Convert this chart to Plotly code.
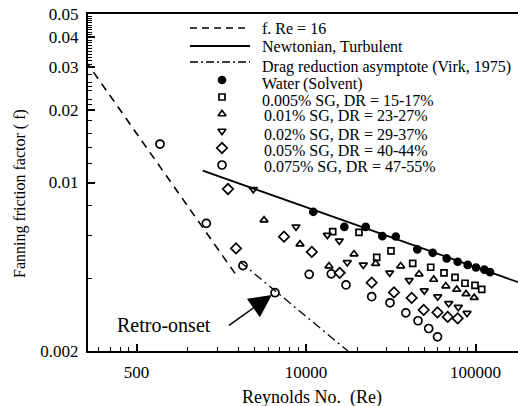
import math
import plotly.graph_objects as go

# ---------------- data ----------------
re_water = [11040, 16830, 22500, 28200, 33850, 45360, 55900, 67600, 78500, 89950, 100700, 112800, 121800]
f_water = [0.00756, 0.00655, 0.00655, 0.00599, 0.00597, 0.00528, 0.00511, 0.00484, 0.00469, 0.00455, 0.00444, 0.00435, 0.00425]

re_005 = [14370, 20540, 26130, 31730, 42610, 54410, 65200, 75700, 86700, 99300, 108800]
f_005 = [0.00625, 0.00621, 0.00489, 0.00520, 0.00462, 0.00445, 0.00422, 0.00404, 0.00382, 0.00374, 0.00360]

re_01 = [5654, 9218, 13670, 19200, 25770, 36200, 46430, 56670, 66800, 77460, 87900, 98240]
f_01 = [0.00698, 0.00555, 0.00450, 0.00505, 0.00461, 0.00450, 0.00417, 0.00396, 0.00372, 0.00360, 0.00345, 0.00333]

re_02 = [4886, 8730, 13360, 15720, 17520, 21780, 31170, 40630, 49880, 59840, 69500, 79150, 89120]
f_02 = [0.00937, 0.00655, 0.00605, 0.00573, 0.00466, 0.00455, 0.00422, 0.00393, 0.00356, 0.00336, 0.00315, 0.00304, 0.00287]

re_05 = [3465, 3865, 7418, 10820, 15800, 24410, 33050, 42030, 49470, 59680, 68550, 78520]
f_05 = [0.00940, 0.00533, 0.00596, 0.00515, 0.00422, 0.00384, 0.00350, 0.00332, 0.00296, 0.00289, 0.00277, 0.00273]

re_075 = [1376, 2582, 4249, 6564, 10440, 14100, 17220, 24410, 31300, 38800, 45790, 52950, 59680]
f_075 = [0.01444, 0.00677, 0.00452, 0.00349, 0.00416, 0.00418, 0.00376, 0.00336, 0.00317, 0.00288, 0.00267, 0.00248, 0.00229]

# reference lines
re_laminar = [500, 4000]
f_laminar = [0.032, 0.004]
re_turb = [2460, 180000]
f_turb = [0.0112, 0.00385]
re_virk = [4080, 20000]
f_virk = [0.00469, 0.00186]

# retro-onset point
re_retro = 6564
f_retro = 0.00349

# axis ticks
x_tickvals = [1000, 10000, 100000]
x_ticktext = ["500", "10000", "100000"]
x_minor = [600, 700, 800, 900, 2000, 3000, 4000, 5000, 6000, 7000, 8000, 9000,
           20000, 30000, 40000, 50000, 60000, 70000, 80000, 90000]
y_tickvals = [0.002, 0.01, 0.02, 0.03, 0.04, 0.05]
y_ticktext = ["0.002", "0.01", "0.02", "0.03", "0.04", "0.05"]
y_minor = [0.004, 0.006, 0.008, 0.012, 0.014, 0.016, 0.018,
           0.021, 0.022, 0.024, 0.025, 0.026, 0.028,
           0.031, 0.032, 0.033, 0.034, 0.035, 0.036, 0.037, 0.038, 0.039,
           0.041, 0.042, 0.043, 0.044, 0.045, 0.046, 0.047, 0.048, 0.049]

legend_labels = [
    "f. Re = 16",
    "Newtonian, Turbulent",
    "Drag reduction asymptote (Virk, 1975)",
    "Water\u2009(Solvent)",
    "0.005% SG, DR = 15-17%",
    "0.01% SG, DR = 23-27%",
    "0.02% SG, DR = 29-37%",
    "0.05% SG, DR = 40-44%",
    "0.075% SG, DR = 47-55%",
]
x_title = "Reynolds No.  (Re)"
y_title = "Fanning friction factor ( f)"

FONT = "Liberation Serif, Times New Roman, serif"
BLACK = "black"

fig = go.Figure()

# lines
fig.add_trace(go.Scatter(x=re_laminar, y=f_laminar, mode="lines",
                         line=dict(color=BLACK, width=1.6, dash="8px,6px"), showlegend=False))
fig.add_trace(go.Scatter(x=re_turb, y=f_turb, mode="lines",
                         line=dict(color=BLACK, width=1.8), showlegend=False))
fig.add_trace(go.Scatter(x=re_virk, y=f_virk, mode="lines",
                         line=dict(color=BLACK, width=1.3, dash="9px,4px,2px,4px"), showlegend=False))

series = [
    (re_water, f_water, "circle", 7, BLACK),
    (re_005, f_005, "square-open", 6, None),
    (re_01, f_01, "triangle-up-open", 7, None),
    (re_02, f_02, "triangle-down-open", 7, None),
    (re_05, f_05, "diamond-open", 8, None),
    (re_075, f_075, "circle-open", 8, None),
]
for xs, ys, sym, size, fill in series:
    fig.add_trace(go.Scatter(
        x=xs, y=ys, mode="markers",
        marker=dict(symbol=sym, size=size, color=BLACK,
                    line=dict(color=BLACK, width=1.7)),
        showlegend=False, cliponaxis=False))

# ---------------- hand-made legend (pixel overlay axes) ----------------
L, R, T, B = 88, 518, 14, 351
W, H = 518, 406
leg_line_x = [190, 250]
leg_line_y = [28, 46, 62]
leg_line_styles = [dict(width=1.6, dash="7px,5px"), dict(width=1.8), dict(width=1.3, dash="8px,3px,2px,3px")]
for yy, st in zip(leg_line_y, leg_line_styles):
    fig.add_trace(go.Scatter(x=leg_line_x, y=[yy, yy], mode="lines", xaxis="x2", yaxis="y2",
                             line=dict(color=BLACK, **st), showlegend=False, hoverinfo="skip"))
leg_mark_y = [80, 97, 114, 131, 148, 165]
for yy, (_, _, sym, size, fill) in zip(leg_mark_y, series):
    fig.add_trace(go.Scatter(x=[222], y=[yy], mode="markers", xaxis="x2", yaxis="y2",
                             marker=dict(symbol=sym, size=size, color=BLACK,
                                         line=dict(color=BLACK, width=1.7)),
                             showlegend=False, hoverinfo="skip"))
leg_text_y = [28, 46, 67, 84, 100, 115, 134, 150, 166]
leg_text_x = [261, 261, 261, 261, 261, 263, 263, 263, 263]
annotations = []
for tx, ty, lab in zip(leg_text_x, leg_text_y, legend_labels):
    annotations.append(dict(x=tx, y=ty, xref="x2", yref="y2", text=lab, showarrow=False,
                            xanchor="left", yanchor="middle", borderpad=0,
                            font=dict(family=FONT, size=16, color=BLACK)))

# retro-onset annotation
annotations.append(dict(x=math.log10(re_retro), y=math.log10(f_retro), xref="x", yref="y",
                        text=" ", showarrow=True, ax=-48, ay=34, axref="pixel", ayref="pixel",
                        arrowhead=2, arrowsize=3, arrowwidth=1.5, arrowcolor=BLACK, standoff=4,
                        font=dict(size=2)))
annotations.append(dict(x=164, y=325, xref="x2", yref="y2", text="Retro-onset", showarrow=False,
                        xanchor="center", yanchor="middle",
                        font=dict(family=FONT, size=20, color=BLACK)))


def px_to_paper(px, py):
    return (px - L) / (R - L), (B - py) / (B - T)


# axis titles (paper coordinates)
xt_x, xt_y = px_to_paper(312, 397)
yt_x, yt_y = px_to_paper(20, 194)
annotations.append(dict(x=xt_x, y=xt_y, xref="paper", yref="paper", text=x_title, showarrow=False,
                        xanchor="center", yanchor="middle",
                        font=dict(family=FONT, size=18, color=BLACK)))
annotations.append(dict(x=yt_x, y=yt_y, xref="paper", yref="paper", text=y_title, showarrow=False,
                        xanchor="center", yanchor="middle", textangle=-90,
                        font=dict(family=FONT, size=16, color=BLACK)))

fig.update_layout(
    width=W, height=H,
    margin=dict(l=L, r=W - R, t=T, b=H - B, autoexpand=False),
    paper_bgcolor="white", plot_bgcolor="white",
    showlegend=False,
    font=dict(family=FONT, color=BLACK),
    annotations=annotations,
    xaxis=dict(
        type="log", range=[2.7139, 5.2507], automargin=False,
        tickmode="array", tickvals=x_tickvals, ticktext=x_ticktext,
        ticks="inside", ticklen=7, tickwidth=1.5, tickcolor=BLACK,
        tickfont=dict(family=FONT, size=17, color=BLACK),
        ticklabelstandoff=5,
        minor=dict(tickmode="array", tickvals=x_minor, ticks="inside", ticklen=4,
                   tickwidth=1.3, tickcolor=BLACK, showgrid=False),
        showline=True, linewidth=2, linecolor=BLACK, mirror=True,
        showgrid=False, zeroline=False,
    ),
    yaxis=dict(
        type="log", range=[math.log10(0.002), math.log10(0.05)], automargin=False,
        tickmode="array", tickvals=y_tickvals, ticktext=y_ticktext,
        ticks="inside", ticklen=7, tickwidth=1.5, tickcolor=BLACK,
        tickfont=dict(family=FONT, size=17, color=BLACK),
        ticklabelstandoff=4,
        minor=dict(tickmode="array", tickvals=y_minor, ticks="inside", ticklen=4,
                   tickwidth=1.2, tickcolor=BLACK, showgrid=False),
        showline=True, linewidth=2, linecolor=BLACK,
        showgrid=False, zeroline=False,
    ),
    xaxis2=dict(overlaying="x", anchor="y2", range=[L, R], visible=False),
    yaxis2=dict(overlaying="y", anchor="x2", range=[B, T], visible=False),
)

fig.write_html("out.html")
